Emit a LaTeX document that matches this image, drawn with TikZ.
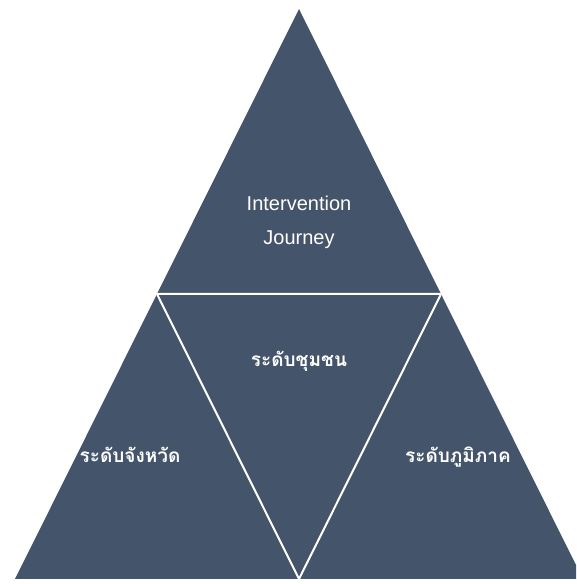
\documentclass[tikz,border=0pt]{standalone}
\usepackage{fontspec}
\setmainfont{Liberation Sans}
\newfontfamily\thaifont[Script=Thai]{Loma}
\definecolor{slate}{HTML}{44546A}

\begin{document}
\begin{tikzpicture}[
    x=1pt, y=1pt,
    label/.style={text=white,font=\fontsize{20}{22}\selectfont,inner sep=0pt,anchor=base},
    thailabel/.style={label,font=\thaifont\bfseries\fontsize{19}{21}\selectfont}]
    \useasboundingbox (0, 0) rectangle (576, 584);
    \clip (0, 0) rectangle (576, 584);

    % Ecken
    \coordinate (top) at (299, 575);
    \coordinate (left) at (15, 5);
    \coordinate (right) at (583, 5);
    \coordinate (ml) at (157, 290);
    \coordinate (mr) at (441, 290);
    \coordinate (mb) at (299, 5);

    % Dreieck
    \fill[slate] (top) -- (right) -- (left) -- cycle;
    \draw[white,line width=2pt] (ml) -- (mr) -- (mb) -- cycle;

    % Beschriftungen
    \node[label] (intervention) at (299, 373) {Intervention};
    \node[label] (journey) at (299, 339) {Journey};
    \node[thailabel] (chumchon) at (299, 217) {ระดับชุมชน};
    \node[thailabel] (changwat) at (130, 121) {ระดับจังหวัด};
    \node[thailabel] (phumiphak) at (458, 121) {ระดับภูมิภาค};
\end{tikzpicture}
\end{document}
